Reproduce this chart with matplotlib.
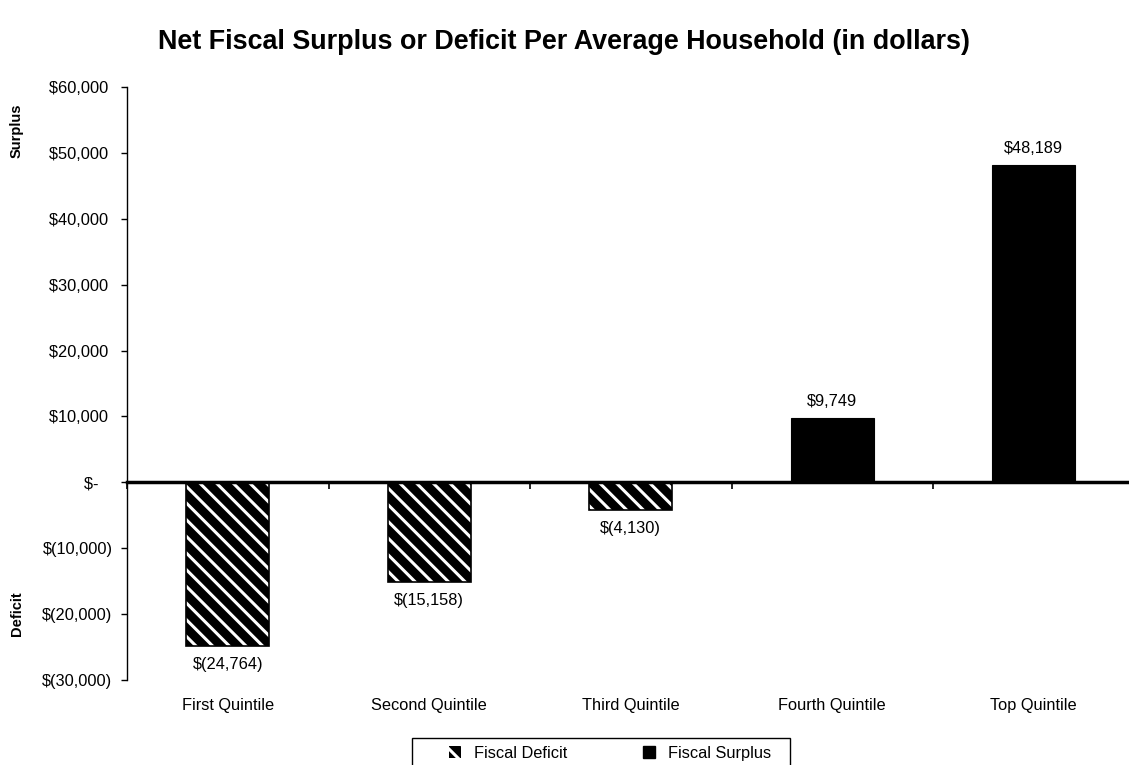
import matplotlib
matplotlib.use('Agg')
from matplotlib import pyplot as plt
from matplotlib.ticker import FuncFormatter
from matplotlib.patches import Patch, Rectangle

plt.rcParams['font.family'] = ['Liberation Sans', 'DejaVu Sans']
plt.rcParams['hatch.linewidth'] = 2.2

# 数据
categories = ['First Quintile', 'Second Quintile', 'Third Quintile', 'Fourth Quintile', 'Top Quintile']
net_values = [-24764, -15158, -4130, 9749, 48189]
y_ticks = [-30000, -20000, -10000, 0, 10000, 20000, 30000, 40000, 50000, 60000]
legend_labels = ['Fiscal Deficit', 'Fiscal Surplus']

x = list(range(len(categories)))
deficit_x = [i for i, v in zip(x, net_values) if v < 0]
deficit_v = [v for v in net_values if v < 0]
surplus_x = [i for i, v in zip(x, net_values) if v >= 0]
surplus_v = [v for v in net_values if v >= 0]

fs = 11.8
fig = plt.figure(figsize=(11.29, 7.65), dpi=100)
ax = fig.add_axes([127/1129, 85/765, 1007.5/1129, 593/765])

bw = 0.41
# 斜线填充：黑底白线
ax.bar(deficit_x, deficit_v, width=bw, color='black', edgecolor='white', hatch='\\\\', linewidth=0, zorder=2)
ax.bar(deficit_x, deficit_v, width=bw, fill=False, edgecolor='black', linewidth=1.2, zorder=3)
ax.bar(surplus_x, surplus_v, width=bw, color='black', edgecolor='black', linewidth=0.8, zorder=2)

# 会计格式
def acct(v, pos=None):
    if v == 0:
        return '$-   '
    if v < 0:
        return '$({:,.0f})'.format(-v)
    return '${:,.0f} '.format(v)

for i, v in zip(x, net_values):
    if v < 0:
        ax.annotate(acct(v), (i, v), xytext=(0, -8), textcoords='offset points',
                    ha='center', va='top', fontsize=fs)
    else:
        ax.annotate(acct(v).strip(), (i, v), xytext=(0, 6.5), textcoords='offset points',
                    ha='center', va='bottom', fontsize=fs)

ax.set_xlim(-0.5, len(categories) - 0.5)
ax.set_ylim(-30000, 60000)
ax.set_yticks(y_ticks)
ax.yaxis.set_major_formatter(FuncFormatter(acct))
ax.tick_params(axis='y', labelsize=fs, length=4.5, width=1, pad=6)

for s in ['top', 'right']:
    ax.spines[s].set_visible(False)
ax.spines['left'].set_linewidth(1)
ax.spines['bottom'].set_position(('data', 0))
ax.spines['bottom'].set_linewidth(2.5)
ax.spines['bottom'].set_zorder(4)
ax.set_xticks([i - 0.5 for i in x])
ax.set_xticklabels([])
ax.tick_params(axis='x', length=5, width=1.2, direction='out')

sec = ax.secondary_xaxis(0.0)
sec.set_xticks(x)
sec.set_xticklabels(categories, fontsize=fs)
sec.tick_params(length=0, pad=13)
sec.spines['bottom'].set_visible(False)

fig.text(564/1129, 1 - 42/765, 'Net Fiscal Surplus or Deficit Per Average Household (in dollars)',
         ha='center', va='center', fontsize=19.4, fontweight='bold')
fig.text(17/1129, 1 - 131/765, 'Surplus', rotation=90, ha='center', va='center', fontsize=10.5, fontweight='bold')
fig.text(17/1129, 1 - 614/765, 'Deficit', rotation=90, ha='center', va='center', fontsize=10.5, fontweight='bold')

# 图例
h1 = Patch(facecolor='black', edgecolor='white', hatch='\\\\', linewidth=0)
h2 = Patch(facecolor='black', edgecolor='black')
leg = fig.legend([h1, h2], legend_labels, loc='upper left',
                 bbox_to_anchor=(449/1129, 1 - 746/765), ncol=2, fontsize=fs, frameon=False,
                 handlelength=0.75, handleheight=0.75, borderpad=0, borderaxespad=0,
                 columnspacing=4.6, handletextpad=0.8)
fig.patches.append(Rectangle((412/1129, -0.02), (790 - 412)/1129, 0.02 + 27/765,
                             transform=fig.transFigure, fill=False, edgecolor='black', linewidth=1))

fig.savefig('out.png', dpi=100)
